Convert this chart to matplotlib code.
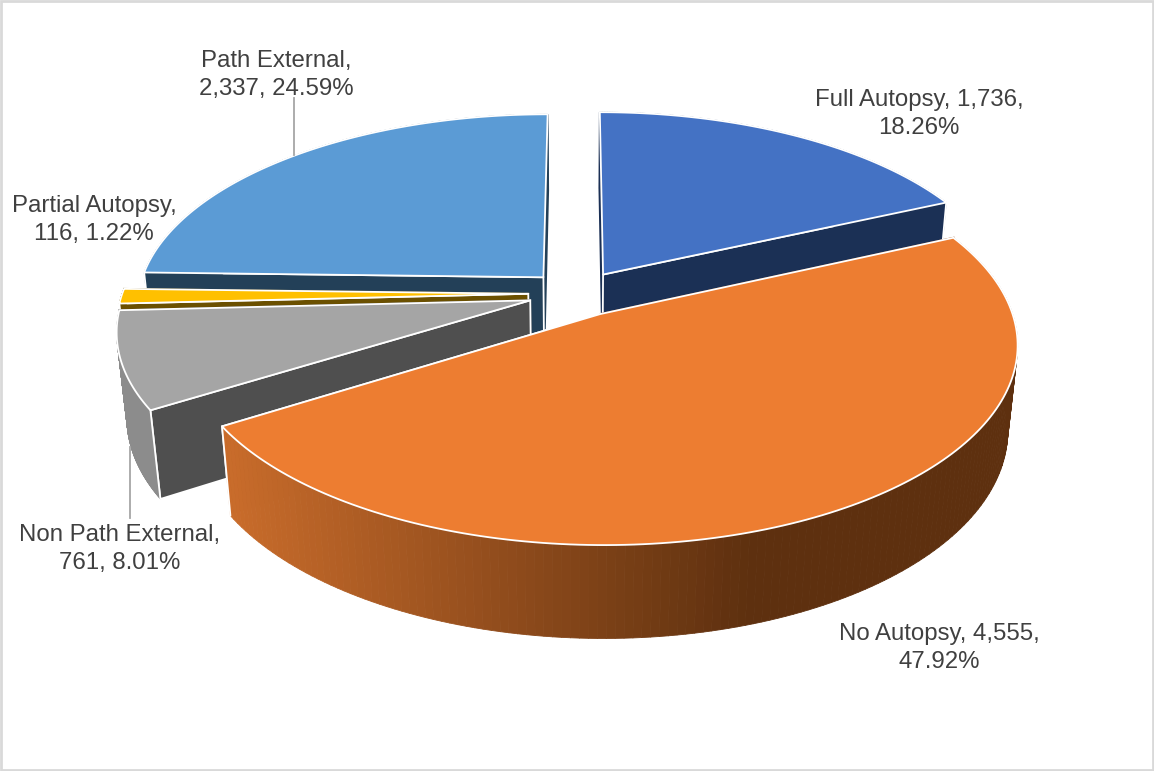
import numpy as np
import matplotlib
matplotlib.use("Agg")
import matplotlib.pyplot as plt
from matplotlib.patches import Polygon, Rectangle
from matplotlib.collections import PolyCollection
from matplotlib.colors import to_rgb

# Slice data, clockwise from twelve o'clock
categories = ["Full Autopsy", "No Autopsy", "Non Path External", "Partial Autopsy", "Path External"]
counts = [1736, 4555, 761, 116, 2337]
percents = ["18.26%", "47.92%", "8.01%", "1.22%", "24.59%"]
top_colors = ["#4472C4", "#ED7D31", "#A5A5A5", "#FFC000", "#5B9BD5"]
face_colors = ["#1B3055", "#8F4B1D", "#4F4F4F", "#6B5000", "#234058"]
wall_colors = ["#1B3055", "#5E300F", "#8C8C8C", "#6B5000", "#234058"]

# Projection of the exploded disc
CX, CY = 577.0, 293.5
RX, RY = 406.0, 191.0
EXPLODE = 0.12
DEPTH = 86.0
K_BACK = 0.145
K_DROP = 0.022


def project(u, v, z=0.0):
    s = 1.0 / (1.0 + K_BACK * v + K_DROP * z)
    return CX + RX * u * s, CY - RY * v * s + DEPTH * z * s


def arc_world(a0, a1, ex, ey, n):
    t = np.linspace(a0, a1, n)
    return np.sin(t) + ex, np.cos(t) + ey


def blend(c0, c1, f):
    a, b = np.array(to_rgb(c0)), np.array(to_rgb(c1))
    return tuple(a + (b - a) * f)


fig = plt.figure(figsize=(11.54, 7.71), dpi=100)
ax = fig.add_axes([0, 0, 1, 1])
ax.set_xlim(0, 1154)
ax.set_ylim(771, 0)
ax.axis("off")
ax.add_patch(Rectangle((1, 1), 1152, 769, fc="white", ec="#D9D9D9", lw=2.0, zorder=0))

total = float(sum(counts))
edges = np.concatenate([[0.0], np.cumsum(counts)]) / total * 2 * np.pi

# Painter's order: back slices first, the large front slice last
WHITE_LW = 1.3
z = 1
for i in [4, 3, 0, 2, 1]:
    a0, a1 = edges[i], edges[i + 1]
    mid = 0.5 * (a0 + a1)
    ex, ey = EXPLODE * np.sin(mid), EXPLODE * np.cos(mid)
    us, vs = arc_world(a0, a1, ex, ey, 160)
    top_x, top_y = project(us, vs, 0)
    bot_x, bot_y = project(us, vs, 1)
    ax_top, ay_top = project(ex, ey, 0)
    ax_bot, ay_bot = project(ex, ey, 1)

    # Cut faces from the apex to the rim; the one nearer the viewer goes on last
    front = -1 if top_y[-1] > top_y[0] else 0
    back = 0 if front == -1 else -1
    for j in (back, front):
        quad = [(ax_top, ay_top), (top_x[j], top_y[j]), (bot_x[j], bot_y[j]), (ax_bot, ay_bot)]
        ax.add_patch(Polygon(quad, closed=True, fc=face_colors[i], ec=face_colors[i] if j == back else "white",
                             lw=WHITE_LW, zorder=z))
        z += 1

    # Outer wall; the large slice darkens from left to right
    quads, cols = [], []
    for k in range(len(us) - 1):
        quads.append([(top_x[k], top_y[k]), (top_x[k + 1], top_y[k + 1]),
                      (bot_x[k + 1], bot_y[k + 1]), (bot_x[k], bot_y[k])])
        if i == 1:
            xm = 0.5 * (top_x[k] + top_x[k + 1])
            f = np.clip((xm - 225) / (750 - 225), 0, 1)
            cols.append(blend("#C96C2B", wall_colors[i], f))
        else:
            cols.append(to_rgb(wall_colors[i]))
    ax.add_collection(PolyCollection(quads, facecolors=cols, edgecolors=cols, linewidths=0.6, zorder=z))
    z += 1
    ax.plot([top_x[front], bot_x[front]], [top_y[front], bot_y[front]], color="white", lw=WHITE_LW,
            zorder=z, solid_capstyle="round")
    z += 1

    # Top surface
    pts = np.column_stack([np.r_[ax_top, top_x], np.r_[ay_top, top_y]])
    ax.add_patch(Polygon(pts, closed=True, fc=top_colors[i], ec="white", lw=WHITE_LW,
                         joinstyle="round", zorder=z))
    z += 1

# Leader lines
LEADER = "#A6A6A6"
ax.plot([294, 294], [98, 155], color=LEADER, lw=1.3, zorder=z)
ax.plot([130, 130], [447, 518], color=LEADER, lw=1.3, zorder=z)

# Data labels
label_style = dict(ha="center", va="center", fontsize=17.3, color="#404040",
                   family="Liberation Sans", linespacing=1.3, zorder=z + 1)
ax.text(919, 114, f"{categories[0]}, {counts[0]:,},\n{percents[0]}", **label_style)
ax.text(939, 648, f"{categories[1]}, {counts[1]:,},\n{percents[1]}", **label_style)
ax.text(120, 549, f"{categories[2]},\n{counts[2]:,}, {percents[2]}", **label_style)
ax.text(94, 220, f"{categories[3]},\n{counts[3]:,}, {percents[3]}", **label_style)
ax.text(276, 75, f"{categories[4]},\n{counts[4]:,}, {percents[4]}", **label_style)

fig.savefig("out.png", dpi=100, facecolor="white")
